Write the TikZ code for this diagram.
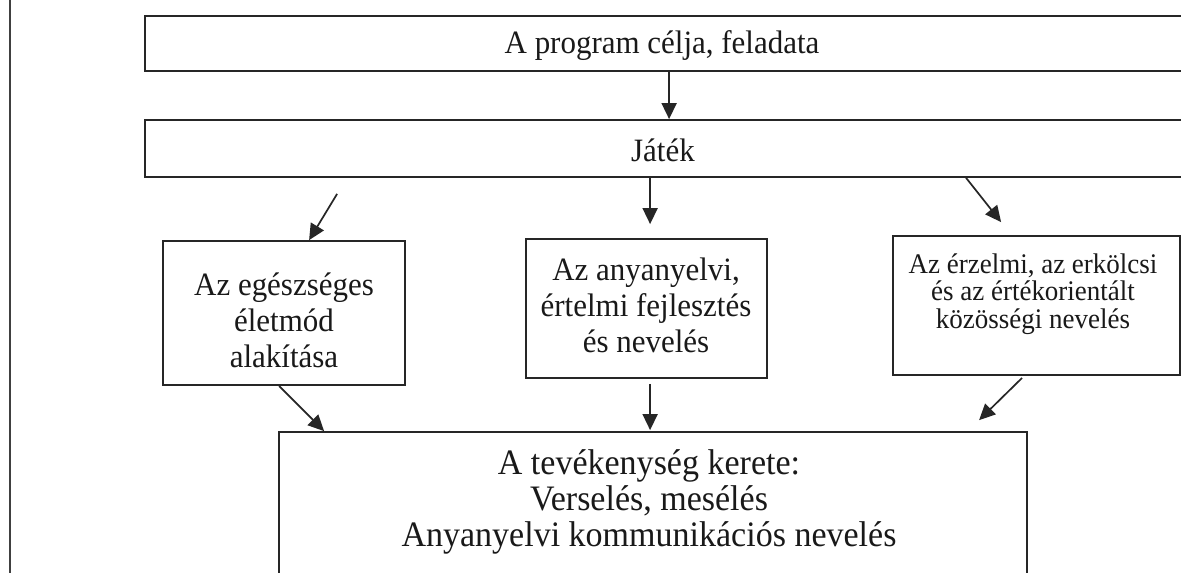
\documentclass[tikz,border=0pt]{standalone}
\usepackage{fontspec}
\setmainfont{Liberation Serif}[FakeStretch=0.95]
\usetikzlibrary{arrows.meta,calc}
\begin{document}
\begin{tikzpicture}[x=1pt,y=-1pt,
  box/.style={draw=black!85,line width=1.8pt,inner sep=0pt,rectangle},
  arr/.style={draw=black!85,line width=1.7pt,-{Triangle[length=16pt,width=15pt]}},
  big/.style={font=\fontsize{32.6}{36}\selectfont,align=center,inner sep=0pt,text=black!90},
  bigger/.style={font=\fontsize{35.8}{36}\selectfont,align=center,inner sep=0pt,text=black!90},
  small/.style={font=\fontsize{28.4}{27.5}\selectfont,align=center,inner sep=0pt,text=black!90}]
\useasboundingbox (0,0) rectangle (1181,573);
\clip (0,0) rectangle (1181,573);
\fill[white] (0,0) rectangle (1181,573);
\draw[gray!50!black,line width=1.2pt] (10,-5) -- (10,580);
% boxes
\node[box,minimum width=1040pt,minimum height=55pt] (top) at (665,43.5) {};
\node[box,minimum width=1040pt,minimum height=57pt] (jatek) at (665,148.5) {};
\node[box,minimum width=242pt,minimum height=144pt] (left) at (284,313) {};
\node[box,minimum width=241pt,minimum height=139pt] (mid) at (646.5,308.5) {};
\node[box,minimum width=287pt,minimum height=139pt] (right) at (1036.5,305.5) {};
\node[box,minimum width=748pt,minimum height=188pt] (bottom) at (653,526) {};
% texts
\node[big] (ttop) at (662,46) {A program célja, feladata};
\node[big] (tjatek) at (663,150) {Játék};
\node[big] (tleft) at (284,320) {Az egészséges\\életmód\\alakítása};
\node[big] (tmid) at (646,305) {Az anyanyelvi,\\értelmi fejlesztés\\és nevelés};
\node[small] (tright) at (1033,294) {Az érzelmi, az erkölcsi\\és az értékorientált\\közösségi nevelés};
\node[bigger] (tbottom) at (649,502) {A tevékenység kerete:\\Verselés, mesélés\\Anyanyelvi kommunikációs nevelés};
% arrows
\draw[arr] ($(top.south west)+(525,0)$) -- ($(jatek.north west)+(525,0)$);
\draw[arr] ($(jatek.south west)+(193,16)$) -- ($(left.north west)+(147,0)$);
\draw[arr] ($(jatek.south west)+(506,0)$) -- ($(mid.north west)+(125,-14)$);
\draw[arr] ($(jatek.south west)+(822,0)$) -- ($(right.north west)+(109,-13)$);
\draw[arr] ($(left.south west)+(117,0)$) -- ($(bottom.north west)+(46,0)$);
\draw[arr] ($(mid.south west)+(125,5)$) -- ($(bottom.north west)+(372,-1)$);
\draw[arr] ($(right.south west)+(130,2)$) -- ($(bottom.north west)+(701,-11)$);
\end{tikzpicture}
\end{document}
